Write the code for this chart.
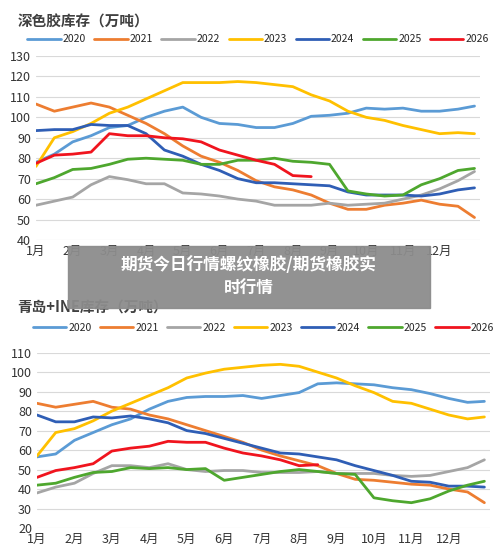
import numpy as np, pandas as pd, matplotlib
matplotlib.use("Agg")
import matplotlib.pyplot as plt, seaborn as sns

sns.set_style("white")
plt.rcParams['font.family'] = ['Noto Sans CJK SC', 'DejaVu Sans']
N = np.nan
months = [1,1.5,2,2.5,3,3.5,4,4.5,5,5.5,6,6.5,7,7.5,8,8.5,9,9.5,10,10.5,11,11.5,12,12.5,12.95]
years = ['2020','2021','2022','2023','2024','2025','2026']
month_labels = ['1月','2月','3月','4月','5月','6月','7月','8月','9月','10月','11月','12月']

dark = {
 '2020':[78,82,88,91,95,96,100,103,105,100,97,96.5,95,95,97,100.5,101,102,104.5,104,104.5,103,103,104,105.5],
 '2021':[106.5,103,105,107,105,101,97,92,86,81,78,74,69,66,64.5,62,58,55,55,57,58,59.5,57.5,56.5,51],
 '2022':[57,59,61,67,71,69.5,67.5,67.5,63,62.5,61.5,60,59,57,57,57,58,57,57.5,58,60,62,65,69,73.5],
 '2023':[76,90,93,97,102,105,109,113,117,117,117,117.5,117,116,115,111,108,103,100,98.5,96,94,92,92.5,92],
 '2024':[93.5,94,94,96.5,96,96,92,84,81,77,74,70,68,68,67.5,67,66.5,63.5,62,62,62,61.5,62.5,64.5,65.5],
 '2025':[67.5,70.5,74.5,75,77,79.5,80,79.5,79,77,77,79,79,80,78.5,78,77,64,62.5,61.5,62,67,70,74,75],
 '2026':[77.5,81.5,82,83,92,91,91,90,89.5,88,84,81.5,79,77,71.5,71,N,N,N,N,N,N,N,N,N],
}
qd = {
 '2020':[56.5,58,65,69,73,76,81,85,87,87.5,87.5,88,86.5,88,89.5,94,94.5,94,93.5,92,91,89,86.5,84.5,85],
 '2021':[84,82,83.5,85,82,81,78,76,73,70,67,64,60,57,54.5,52,48,45,44.5,43.5,42.5,42,40,38.5,33],
 '2022':[38,41,43,48,52,52,51,53,50,49,49.5,49.5,48.5,48.5,48.5,49,48,48,48,47,46.5,47,49,51,55],
 '2023':[57,69,71,75,80,84,88,92,97,99.5,101.5,102.5,103.5,104,103,100,97,93,89.5,85,84,81,78,76,77],
 '2024':[78,74.5,74.5,77,76.5,77.5,76,74,70,68.5,66,63.5,61,58.5,58,56.5,55,52,49.5,47,44,43.5,41.5,41.5,41],
 '2025':[42,43,46,48.5,49,51,50.5,51,50,50.5,44.5,46,47.5,49,50,49,48,47.5,35.5,34,33,35,39,42,44],
 '2026':[46,49.5,51,53,59.5,61,62,64.5,64,64,61,58.5,57,55,52,52.5,N,N,N,N,N,N,N,N,N],
}
colors = ['#5B9BD5','#ED7D31','#A5A5A5','#FFC000','#2F5EB5','#4EA72E','#F0141E']
pal = dict(zip(years, colors))

def long(d):
    return pd.DataFrame([(m, y, v) for y in years for m, v in zip(months, d[y])],
                        columns=['month','year','value']).dropna()

fig = plt.figure(figsize=(5,5.55), dpi=100)
fig.patch.set_facecolor('white')

def panel(rect, d, ylim, step, title, ty, ly):
    ax = fig.add_axes(rect)
    sns.lineplot(data=long(d), x='month', y='value', hue='year', palette=pal,
                 linewidth=2, ax=ax, legend=True)
    ax.set_xlim(1, 13.1); ax.set_ylim(*ylim)
    ax.set_yticks(np.arange(ylim[0], ylim[1]+1, step))
    ax.set_xticks(range(1,13)); ax.set_xticklabels(month_labels)
    ax.tick_params(labelsize=9, colors='#333333', length=0)
    ax.grid(axis='y', color='#D9D9D9', lw=0.8)
    for s in ax.spines.values(): s.set_visible(False)
    ax.set_xlabel(''); ax.set_ylabel('')
    h, l = ax.get_legend_handles_labels()
    ax.legend(h, l, ncol=7, frameon=False, fontsize=7.5, loc='center',
              bbox_to_anchor=(0.5, ly), handlelength=3.2, columnspacing=0.8, handletextpad=0.2)
    fig.text(0.035, ty, title, fontsize=10.5, fontweight='bold', color='#404040', va='center')
    return ax

panel([0.072,0.5676,0.888,0.3315], dark, (40,130), 10, '深色胶库存（万吨）', 1-22/555, 1.09)
panel([0.074,0.0486,0.906,0.316], qd, (20,110), 10, '青岛+INE库存（万吨）', 1-308/555, 1.14)

fig.patches.append(matplotlib.patches.Rectangle((68/500, 1-308/555), 362/500, 62/555,
                   transform=fig.transFigure, color='#8C8C8C', alpha=0.95, zorder=10))
fig.text(249/500, 1-277/555, '期货今日行情螺纹橡胶/期货橡胶实\n时行情', ha='center', va='center',
         color='white', fontsize=12, fontweight='bold', zorder=11, linespacing=1.4)
fig.savefig('out.png', dpi=100, facecolor='white')
